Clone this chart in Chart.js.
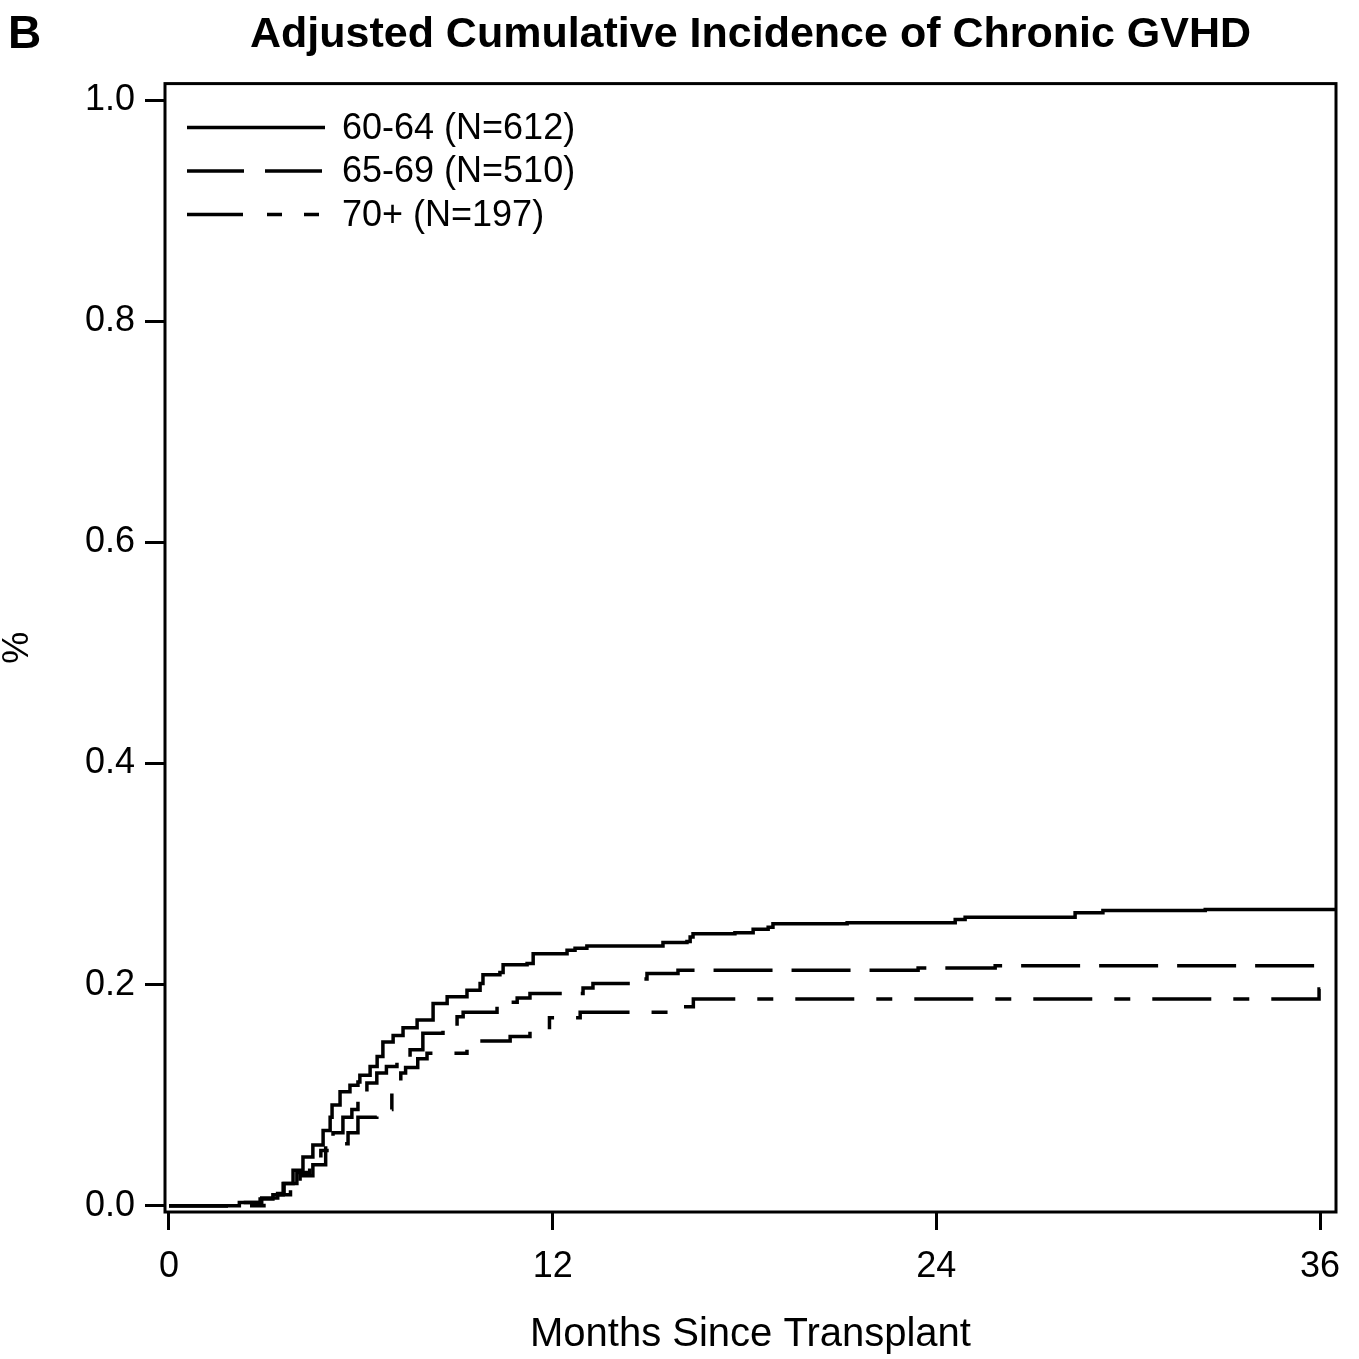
<!DOCTYPE html>
<html>
<head>
<meta charset="utf-8">
<title>Adjusted Cumulative Incidence of Chronic GVHD</title>
<script src="https://cdn.jsdelivr.net/npm/chart.js@4.4.1/dist/chart.umd.min.js"></script>
<style>
    body { margin: 0; background: #fff; }
    canvas { display: block; }
</style>
</head>
<body>
<canvas id="cgvhd-chart" width="1359" height="1359"></canvas>
<script>
// values (months since transplant, cumulative incidence)
const groupLabels = ["60-64 (N=612)", "65-69 (N=510)", "70+ (N=197)"];

const months6064 = [0, 2.2, 2.85, 3.25, 3.57, 3.88, 4.19, 4.5, 4.82, 5.04, 5.1, 5.35, 5.66, 5.91, 5.97, 6.29, 6.51, 6.69, 7.01, 7.32, 7.76, 8.26, 8.7, 9.32, 9.73, 9.82, 10.35, 10.45, 11.2, 11.39, 12.45, 12.7, 13.07, 15.45, 16.2, 16.3, 16.39, 17.7, 18.27, 18.74, 18.89, 21.21, 24.59, 24.9, 28.34, 29.21, 32.41, 36.5];
const cuminc6064 = [0, 0.003, 0.006, 0.010, 0.020, 0.032, 0.044, 0.055, 0.068, 0.080, 0.091, 0.103, 0.109, 0.112, 0.118, 0.126, 0.135, 0.148, 0.154, 0.161, 0.168, 0.183, 0.189, 0.195, 0.201, 0.209, 0.211, 0.218, 0.219, 0.228, 0.231, 0.233, 0.235, 0.238, 0.239, 0.243, 0.246, 0.247, 0.250, 0.252, 0.255, 0.256, 0.259, 0.261, 0.265, 0.267, 0.268, 0.268];

const months6569 = [0, 2.3, 2.9, 3.4, 3.8, 4.1, 4.5, 4.9, 5.13, 5.44, 5.72, 5.91, 6.19, 6.5, 6.8, 7.13, 7.54, 7.94, 8.57, 9.01, 9.2, 10.26, 10.89, 11.29, 12.95, 13.26, 14.48, 14.95, 15.92, 23.43, 25.84, 36.3];
const cuminc6569 = [0, 0.003, 0.007, 0.010, 0.018, 0.027, 0.037, 0.050, 0.066, 0.080, 0.087, 0.096, 0.111, 0.120, 0.126, 0.132, 0.141, 0.156, 0.162, 0.171, 0.175, 0.184, 0.188, 0.192, 0.197, 0.201, 0.205, 0.210, 0.213, 0.215, 0.217, 0.217];

const months70 = [0, 2.97, 3.25, 3.6, 4.0, 4.4, 4.75, 4.9, 5.6, 5.91, 6.5, 6.97, 7.1, 7.25, 7.4, 7.78, 8.07, 9.32, 10.67, 11.29, 11.9, 12.86, 15.6, 16.4, 35.97, 36.3];
const cuminc70 = [0, 0.003, 0.011, 0.02, 0.03, 0.04, 0.05, 0.056, 0.066, 0.080, 0.087, 0.102, 0.111, 0.12, 0.125, 0.133, 0.138, 0.149, 0.153, 0.159, 0.170, 0.175, 0.180, 0.187, 0.196, 0.196];

const xTicks = [0, 12, 24, 36];
const yTicks = [0, 0.2, 0.4, 0.6, 0.8, 1.0];

const FONT = "'Liberation Sans', Arial, Helvetica, sans-serif";

function toPoints(xs, ys) {
    return xs.map(function(x, i) { return {x: x, y: ys[i]}; });
}

// frame round the plot area, the in-plot legend and the panel letter
const extrasPlugin = {
    id: 'extras',
    afterDatasetsDraw: function(chart) {
        const ctx = chart.ctx;
        const a = chart.chartArea;
        ctx.save();
        ctx.strokeStyle = '#000';
        ctx.lineWidth = 3;
        ctx.setLineDash([]);
        ctx.strokeRect(a.left, a.top, a.right - a.left, a.bottom - a.top);

        // legend in the top left corner of the plot
        const legendDash = [[], [57, 21], [56, 24, 15, 22, 15, 200]];
        ctx.font = "36px " + FONT;
        ctx.fillStyle = '#000';
        ctx.textBaseline = 'middle';
        chart.data.datasets.forEach(function(ds, i) {
            const y = a.top + 44 + i * 43.5;
            ctx.beginPath();
            ctx.setLineDash(legendDash[i]);
            ctx.lineWidth = 3.5;
            ctx.moveTo(a.left + 22, y);
            ctx.lineTo(a.left + 160, y);
            ctx.stroke();
            ctx.fillText(ds.label, a.left + 177, y + 1);
        });

        ctx.setLineDash([]);
        ctx.font = "bold 46px " + FONT;
        ctx.textBaseline = 'alphabetic';
        ctx.fillText("B", 8, 48);
        ctx.restore();
    }
};

new Chart(document.getElementById('cgvhd-chart'), {
    type: 'line',
    data: {
        datasets: [
            {
                label: groupLabels[0],
                data: toPoints(months6064, cuminc6064),
                borderColor: '#000',
                borderWidth: 3.5,
                borderDash: [],
                stepped: true,
                pointRadius: 0,
                fill: false
            },
            {
                label: groupLabels[1],
                data: toPoints(months6569, cuminc6569),
                borderColor: '#000',
                borderWidth: 3.5,
                borderDash: [59, 19],
                stepped: true,
                pointRadius: 0,
                fill: false
            },
            {
                label: groupLabels[2],
                data: toPoints(months70, cuminc70),
                borderColor: '#000',
                borderWidth: 3.5,
                borderDash: [59, 22, 16, 22],
                stepped: true,
                pointRadius: 0,
                fill: false
            }
        ]
    },
    options: {
        responsive: false,
        animation: false,
        layout: {padding: {left: 0, right: 23, top: 0, bottom: 0}},
        plugins: {
            legend: {display: false},
            tooltip: {enabled: false},
            title: {
                display: true,
                fullSize: false,
                text: "Adjusted Cumulative Incidence of Chronic GVHD",
                color: '#000',
                font: {family: FONT, size: 43, weight: 'bold', lineHeight: 1.2},
                padding: {top: 9, bottom: 23}
            }
        },
        scales: {
            x: {
                type: 'linear',
                min: -0.125,
                max: 36.5,
                afterBuildTicks: function(axis) {
                    axis.ticks = xTicks.map(function(v) { return {value: v}; });
                },
                afterFit: function(axis) { axis.height = 147; },
                border: {display: false},
                grid: {drawOnChartArea: false, drawTicks: true, tickLength: 18, tickWidth: 3, tickColor: '#000'},
                ticks: {
                    color: '#000',
                    font: {family: FONT, size: 36},
                    padding: 15,
                    maxRotation: 0,
                    callback: function(v) { return v; }
                },
                title: {
                    display: true,
                    text: "Months Since Transplant",
                    color: '#000',
                    font: {family: FONT, size: 40, lineHeight: 1.2},
                    padding: {top: 0, bottom: 0}
                }
            },
            y: {
                type: 'linear',
                min: -0.0057,
                max: 1.0151,
                afterBuildTicks: function(axis) {
                    axis.ticks = yTicks.map(function(v) { return {value: v}; });
                },
                afterFit: function(axis) { axis.width = 165; },
                border: {display: false},
                grid: {drawOnChartArea: false, drawTicks: true, tickLength: 20, tickWidth: 3, tickColor: '#000'},
                ticks: {
                    color: '#000',
                    font: {family: FONT, size: 36},
                    padding: 10,
                    callback: function(v) { return v.toFixed(1); }
                },
                title: {
                    display: true,
                    text: "%",
                    color: '#000',
                    font: {family: FONT, size: 36, lineHeight: 1},
                    padding: {top: 0, bottom: 0}
                }
            }
        }
    },
    plugins: [extrasPlugin]
});
</script>
</body>
</html>
